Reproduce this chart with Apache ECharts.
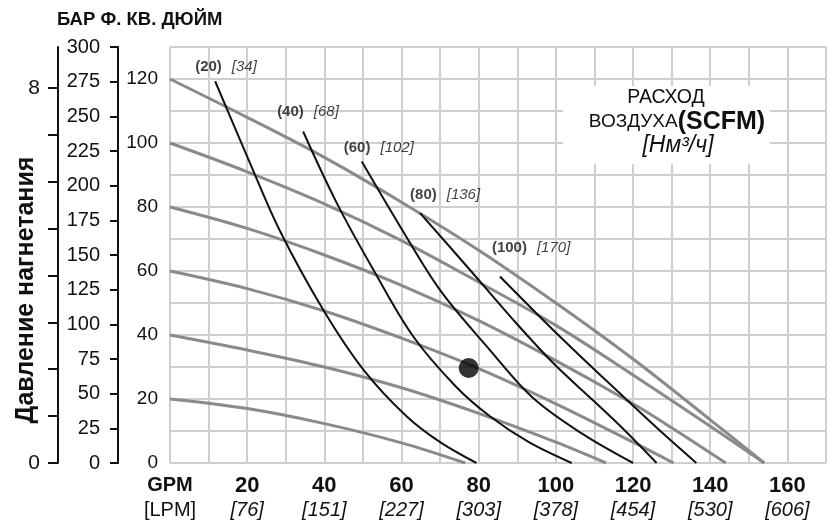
<!DOCTYPE html>
<html>
<head>
<meta charset="utf-8">
<script src="https://cdn.jsdelivr.net/npm/echarts@6/dist/echarts.min.js"></script>
<style>
html, body { margin: 0; padding: 0; background: #fff; }
#chart { width: 831px; height: 527px; }
</style>
</head>
<body>
<div id="chart"></div>
<script>
// шкалы
const gpmTicks = [0, 20, 40, 60, 80, 100, 120, 140, 160];
const lpmTicks = ['LPM', '76', '151', '227', '303', '378', '454', '530', '606'];
const psiTicks = [0, 20, 40, 60, 80, 100, 120];
const ftTicks = [0, 25, 50, 75, 100, 125, 150, 175, 200, 225, 250, 275, 300];
const barTicks = [0, 1, 2, 3, 4, 5, 6, 7, 8];
const barLabels = [0, 8];

// давление воздуха (серые кривые), [GPM, PSI]
const psi20 = [[0, 20], [20, 17], [40, 12.3], [60, 6.3], [76.5, 0]];
const psi40 = [[0, 40], [20, 35.3], [40, 30], [60, 23.5], [80, 15.5], [100, 6.5], [113, 0]];
const psi60 = [[0, 60], [20, 54.5], [40, 47.5], [60, 39], [80, 29.5], [100, 18.5], [120, 6.5], [130.5, 0]];
const psi80 = [[0, 80], [20, 73.3], [40, 65], [60, 55.5], [80, 44.5], [100, 32], [120, 18.5], [130, 11], [144, 0]];
const psi100 = [[0, 100], [20, 91], [40, 81], [60, 69.5], [80, 56.5], [100, 43], [120, 27.5], [140, 11.5], [154, 0]];
const psi120 = [[0, 120], [20, 108], [40, 95.5], [60, 81.5], [80, 66.5], [100, 50], [120, 32.5], [140, 13.5], [154, 0]];

// расход воздуха (чёрные кривые)
const scfm = [20, 40, 60, 80, 100];
const nm3h = [34, 68, 102, 136, 170];
const air20 = [[11.7, 119.3], [20.7, 93.8], [28.5, 72.5], [39.7, 47.9], [50.1, 29.2], [61.3, 14.6], [70, 6.5], [79.4, 0]];
const air40 = [[34.5, 103.6], [43.2, 81.3], [52.7, 60.4], [63, 39.6], [74, 24], [82.9, 14.6], [93, 6.5], [104.1, 0]];
const air60 = [[49.7, 94.2], [59.6, 74], [70, 54], [82.9, 35.3], [94.1, 20.3], [107, 9], [120, 0]];
const air80 = [[64.8, 78.1], [77.7, 60.4], [88.9, 44.8], [99.5, 31], [109.7, 19.5], [118, 10], [126.1, 0]];
const air100 = [[85.5, 58.3], [101.9, 38.5], [118.3, 19.8], [127.5, 9.5], [136.4, 0]];

const dutyPoint = [[77.4, 29.7]];

const SANS = "'Liberation Sans', Arial, sans-serif";

const grayCurves = [psi20, psi40, psi60, psi80, psi100, psi120];
const airCurves = [air20, air40, air60, air80, air100];
const labelShift = [[-20, -14], [-26, -20], [-18, -14], [-10, -18], [-8, -29]];

const series = [];
grayCurves.forEach(function (d) {
    series.push({
        type: 'line', data: d, showSymbol: false, smooth: 0.35, silent: true, z: 2,
        lineStyle: { color: '#8a8a8a', width: 3 }
    });
});
airCurves.forEach(function (d) {
    series.push({
        type: 'line', data: d, showSymbol: false, smooth: 0.35, silent: true, z: 3,
        lineStyle: { color: '#111', width: 2 }
    });
});
// подписи кривых расхода
series.push({
    type: 'scatter', symbolSize: 1, silent: true, z: 5,
    itemStyle: { color: 'rgba(0,0,0,0)' },
    label: {
        show: true, position: 'inside', align: 'left', verticalAlign: 'middle',
        rich: {
            b: { fontFamily: SANS, fontWeight: 'bold', fontSize: 15, color: '#111' },
            s: { width: 10 },
            i: { fontFamily: SANS, fontStyle: 'italic', fontSize: 15, color: '#111' }
        }
    },
    data: airCurves.map(function (c, i) {
        return {
            value: c[0],
            label: { offset: labelShift[i], formatter: '{b|(' + scfm[i] + ')}{s|}{i|[' + nm3h[i] + ']}' }
        };
    })
});
series.push({
    type: 'scatter', data: dutyPoint, symbolSize: 20, silent: true, z: 6,
    itemStyle: { color: '#000' }
});

var myChart = echarts.init(document.getElementById('chart'));
myChart.setOption({
    animation: false,
    backgroundColor: '#fff',
    grid: { left: 170, right: 5, top: 47, bottom: 64 },
    xAxis: {
        type: 'value', min: 0, max: 170, interval: 10,
        axisLine: { show: false }, axisTick: { show: false },
        splitLine: { lineStyle: { color: '#cfcfcf', width: 2 } },
        axisLabel: {
            customValues: gpmTicks, margin: 10, color: '#111',
            formatter: function (v) {
                var i = gpmTicks.indexOf(v);
                if (v === 0) return '{u|GPM}\n{l|[' + lpmTicks[i] + ']}';
                return '{b|' + v + '}\n{i|[' + lpmTicks[i] + ']}';
            },
            rich: {
                u: { fontFamily: SANS, fontWeight: 'bold', fontSize: 20, lineHeight: 25, color: '#111' },
                l: { fontFamily: SANS, fontSize: 20, lineHeight: 25, color: '#111' },
                b: { fontFamily: SANS, fontWeight: 'bold', fontSize: 22, lineHeight: 25, color: '#111' },
                i: { fontFamily: SANS, fontStyle: 'italic', fontSize: 20, lineHeight: 25, color: '#111' }
            }
        }
    },
    yAxis: [
        {
            type: 'value', min: 0, max: 130, interval: 10, position: 'left',
            axisLine: { show: false }, axisTick: { show: false },
            splitLine: { lineStyle: { color: '#cfcfcf', width: 2 } },
            axisLabel: { customValues: psiTicks, margin: 12, fontFamily: SANS, fontSize: 19, color: '#111' }
        },
        {
            type: 'value', min: 0, max: 300, interval: 25, position: 'left', offset: 52,
            axisLine: { show: true, lineStyle: { color: '#111', width: 2 } },
            axisTick: { show: true, length: 8, lineStyle: { color: '#111', width: 2 } },
            splitLine: { show: false },
            axisLabel: { customValues: ftTicks, margin: 18, fontFamily: SANS, fontSize: 20, color: '#111' }
        },
        {
            type: 'value', min: 0, max: 8.87, position: 'left', offset: 112,
            axisLine: { show: true, lineStyle: { color: '#111', width: 2 } },
            axisTick: { show: true, length: 10, customValues: barTicks, lineStyle: { color: '#111', width: 2 } },
            splitLine: { show: false },
            axisLabel: { customValues: barLabels, margin: 18, fontFamily: SANS, fontSize: 21, color: '#111' }
        }
    ],
    series: series,
    graphic: [
        {
            type: 'text', x: 57, y: 20,
            style: { text: 'БАР Ф. КВ. ДЮЙМ', fontFamily: SANS, fontWeight: 'bold', fontSize: 18.5, fill: '#111', align: 'left', verticalAlign: 'middle' }
        },
        {
            type: 'text', x: 26, y: 290, rotation: Math.PI / 2,
            style: { text: 'Давление нагнетания', fontFamily: SANS, fontWeight: 'bold', fontSize: 25, fill: '#111', align: 'center', verticalAlign: 'middle' }
        },
        {
            type: 'rect', shape: { x: 563, y: 86, width: 207, height: 78 },
            style: { fill: '#fff' }, z: 10
        },
        {
            type: 'text', x: 666, y: 98, z: 11,
            style: { text: 'РАСХОД', fontFamily: SANS, fontSize: 19.5, fill: '#111', align: 'center', verticalAlign: 'middle' }
        },
        {
            type: 'text', x: 677, y: 122, z: 11,
            style: {
                text: '{r|ВОЗДУХА}{b|(SCFM)}', align: 'center', verticalAlign: 'middle',
                rich: {
                    r: { fontFamily: SANS, fontSize: 19, fill: '#111' },
                    b: { fontFamily: SANS, fontWeight: 'bold', fontSize: 25, fill: '#111' }
                }
            }
        },
        {
            type: 'text', x: 678, y: 146, z: 11,
            style: { text: '[Нм³/ч]', fontFamily: SANS, fontStyle: 'italic', fontSize: 23, fill: '#111', align: 'center', verticalAlign: 'middle' }
        }
    ]
});
</script>
</body>
</html>
